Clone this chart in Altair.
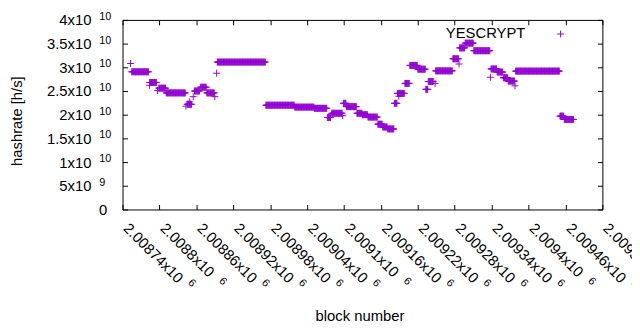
import altair as alt
import pandas as pd

# ---- data (hashrate in units of 1e9 h/s) ----
run_start = [2008753, 2008755, 2008784, 2008784, 2008797, 2008799, 2008811, 2008843, 2008845, 2008849,
             2008855, 2008857, 2008867, 2008877, 2008890, 2008893, 2008894, 2008973, 2009020, 2009052,
             2009073, 2009080, 2009098, 2009099, 2009104, 2009121, 2009130, 2009139, 2009155, 2009163,
             2009171, 2009182, 2009187, 2009189, 2009199, 2009207, 2009220, 2009233, 2009237, 2009248,
             2009249, 2009277, 2009287, 2009288, 2009297, 2009311, 2009338, 2009339, 2009349, 2009359,
             2009367, 2009378, 2009379, 2009451, 2009458]
run_end = [2008753, 2008782, 2008795, 2008784, 2008797, 2008810, 2008842, 2008843, 2008852, 2008849,
           2008855, 2008865, 2008876, 2008889, 2008890, 2008893, 2008972, 2009019, 2009051, 2009072,
           2009078, 2009097, 2009098, 2009103, 2009120, 2009129, 2009138, 2009154, 2009162, 2009170,
           2009181, 2009186, 2009198, 2009189, 2009206, 2009219, 2009232, 2009236, 2009245, 2009248,
           2009276, 2009286, 2009287, 2009296, 2009310, 2009337, 2009338, 2009348, 2009358, 2009366,
           2009377, 2009378, 2009450, 2009457, 2009473]
run_value = [30.8, 29.05, 26.8, 26.2, 25.1, 25.6, 24.6, 21.8, 22.2, 22.7,
             23.8, 25.0, 25.8, 24.6, 23.8, 28.75, 31.1, 22.0, 21.6, 21.35,
             19.4, 20.3, 19.8, 22.4, 21.7, 20.3, 20.0, 19.5, 18.0, 17.4,
             17.0, 22.4, 24.5, 23.9, 26.6, 30.4, 29.6, 25.35, 27.0, 26.6,
             29.25, 31.8, 30.7, 34.1, 35.1, 33.5, 27.9, 29.65, 29.0, 27.8,
             27.1, 26.1, 29.2, 19.7, 19.0]

series_name = ["YESCRYPT"]
x_ticks = [2008740, 2008800, 2008860, 2008920, 2008980, 2009040, 2009100,
           2009160, 2009220, 2009280, 2009340, 2009400, 2009460, 2009520]
y_ticks = [0, 5e9, 1e10, 1.5e10, 2e10, 2.5e10, 3e10, 3.5e10, 4e10]
x_domain = [2008740, 2009520]
y_domain = [0, 4e10]

rows = []
for s, e, v in zip(run_start, run_end, run_value):
    for b in range(s, e + 1):
        rows.append({"block": b, "hashrate": v * 1e9})
df = pd.DataFrame(rows)
key_df = pd.DataFrame({"name": series_name})

PURPLE = "#9400d3"
FONT = "Liberation Sans"
PLUS = "M-1,0H1M0,-1V1"

xs = alt.Scale(domain=x_domain, nice=False, zero=False)
ys = alt.Scale(domain=y_domain, nice=False)

short_test = "datum.value % 100 == 0"

# layer 1: data points + main labels and titles
pts = alt.Chart(df).mark_point(shape=PLUS, filled=False, size=49, strokeWidth=1,
                               color=PURPLE, opacity=1).encode(
    x=alt.X("block:Q", scale=xs, axis=alt.Axis(
        orient="bottom", values=x_ticks,
        labelExpr="(datum.value/1e6) + 'x10'",
        labelAngle=45, labelAlign="left", labelBaseline="middle",
        labelPadding=16, labelOffset=3,
        ticks=False, tickSize=0, domain=False, grid=False,
        labelOverlap=False, labelFlush=False,
        title="block number", titleX=240, titleY=112,
        titleAlign="center", titleBaseline="alphabetic")),
    y=alt.Y("hashrate:Q", scale=ys, axis=alt.Axis(
        orient="left", values=y_ticks,
        labelExpr="datum.value == 0 ? '0' : (datum.value < 1e10 ? (datum.value/1e9) + 'x10' : (datum.value/1e10) + 'x10')",
        labelAlign="right", labelBaseline="middle",
        labelPadding={"condition": {"test": "datum.value == 0", "value": 16}, "value": 32},
        ticks=False, tickSize=0, domain=False, grid=False, labelOverlap=False, labelFlush=False,
        title="hashrate [h/s]", titleX=-107, titleY=102, titleAngle=270,
        titleAlign="center", titleBaseline="middle")),
)

# layer 2: superscript exponents
sup = alt.Chart(df).mark_point(opacity=0).encode(
    x=alt.X("block:Q", scale=xs, axis=alt.Axis(
        orient="bottom", values=x_ticks, labelExpr="'6'",
        labelAngle=45, labelAlign="left", labelBaseline="middle", labelFontSize=11,
        labelOffset={"condition": {"test": short_test, "value": 61.4}, "value": 67.4},
        labelPadding={"condition": {"test": short_test, "value": 70.3}, "value": 72},
        ticks=False, tickSize=0, domain=False, grid=False,
        labelOverlap=False, labelFlush=False, title=None)),
    y=alt.Y("hashrate:Q", scale=ys, axis=alt.Axis(
        orient="left", values=y_ticks,
        labelExpr="datum.value == 0 ? '' : (datum.value < 1e10 ? '9' : '10')",
        labelAlign="left", labelBaseline="middle", labelFontSize=11,
        labelPadding=24, labelOffset=-3.5,
        ticks=False, tickSize=0, domain=False, grid=False,
        labelOverlap=False, labelFlush=False, title=None)),
)

# layers 3-4: inward ticks on all four sides
def tick_layer(xo, yo):
    return alt.Chart(df).mark_point(opacity=0).encode(
        x=alt.X("block:Q", scale=xs, axis=alt.Axis(
            orient=xo, values=x_ticks, labels=False, ticks=True, tickSize=5,
            tickColor="black", tickWidth=1, offset=-5, domain=False, grid=False, title=None)),
        y=alt.Y("hashrate:Q", scale=ys, axis=alt.Axis(
            orient=yo, values=y_ticks, labels=False, ticks=True, tickSize=5,
            tickColor="black", tickWidth=1, offset=-5, domain=False, grid=False, title=None)),
    )

ticks_a = tick_layer("bottom", "left")
ticks_b = tick_layer("top", "right")

# key
key_text = alt.Chart(key_df).mark_text(align="right", baseline="alphabetic", font=FONT,
                                       fontSize=15, color="black").encode(
    x=alt.value(408), y=alt.value(18.7), text="name:N")
key_point = alt.Chart(key_df).mark_point(shape=PLUS, filled=False, size=49, strokeWidth=1,
                                         color=PURPLE, opacity=1).encode(
    x=alt.value(443.7), y=alt.value(14.3), detail="name:N")

chart = alt.layer(pts, sup, ticks_a, ticks_b, key_text, key_point).resolve_axis(
    x="independent", y="independent"
).properties(
    width=486, height=192,
    autosize=alt.AutoSizeParams(type="none"),
    padding={"left": 116, "top": 10, "right": 30, "bottom": 120},
    background="white",
).configure_axis(
    labelFont=FONT, titleFont=FONT, labelFontSize=15, titleFontSize=15,
    labelColor="black", titleColor="black", titleFontWeight="normal",
).configure_view(stroke="black", strokeWidth=1)

chart.save("out.html", embed_options={"renderer": "svg", "actions": False})
